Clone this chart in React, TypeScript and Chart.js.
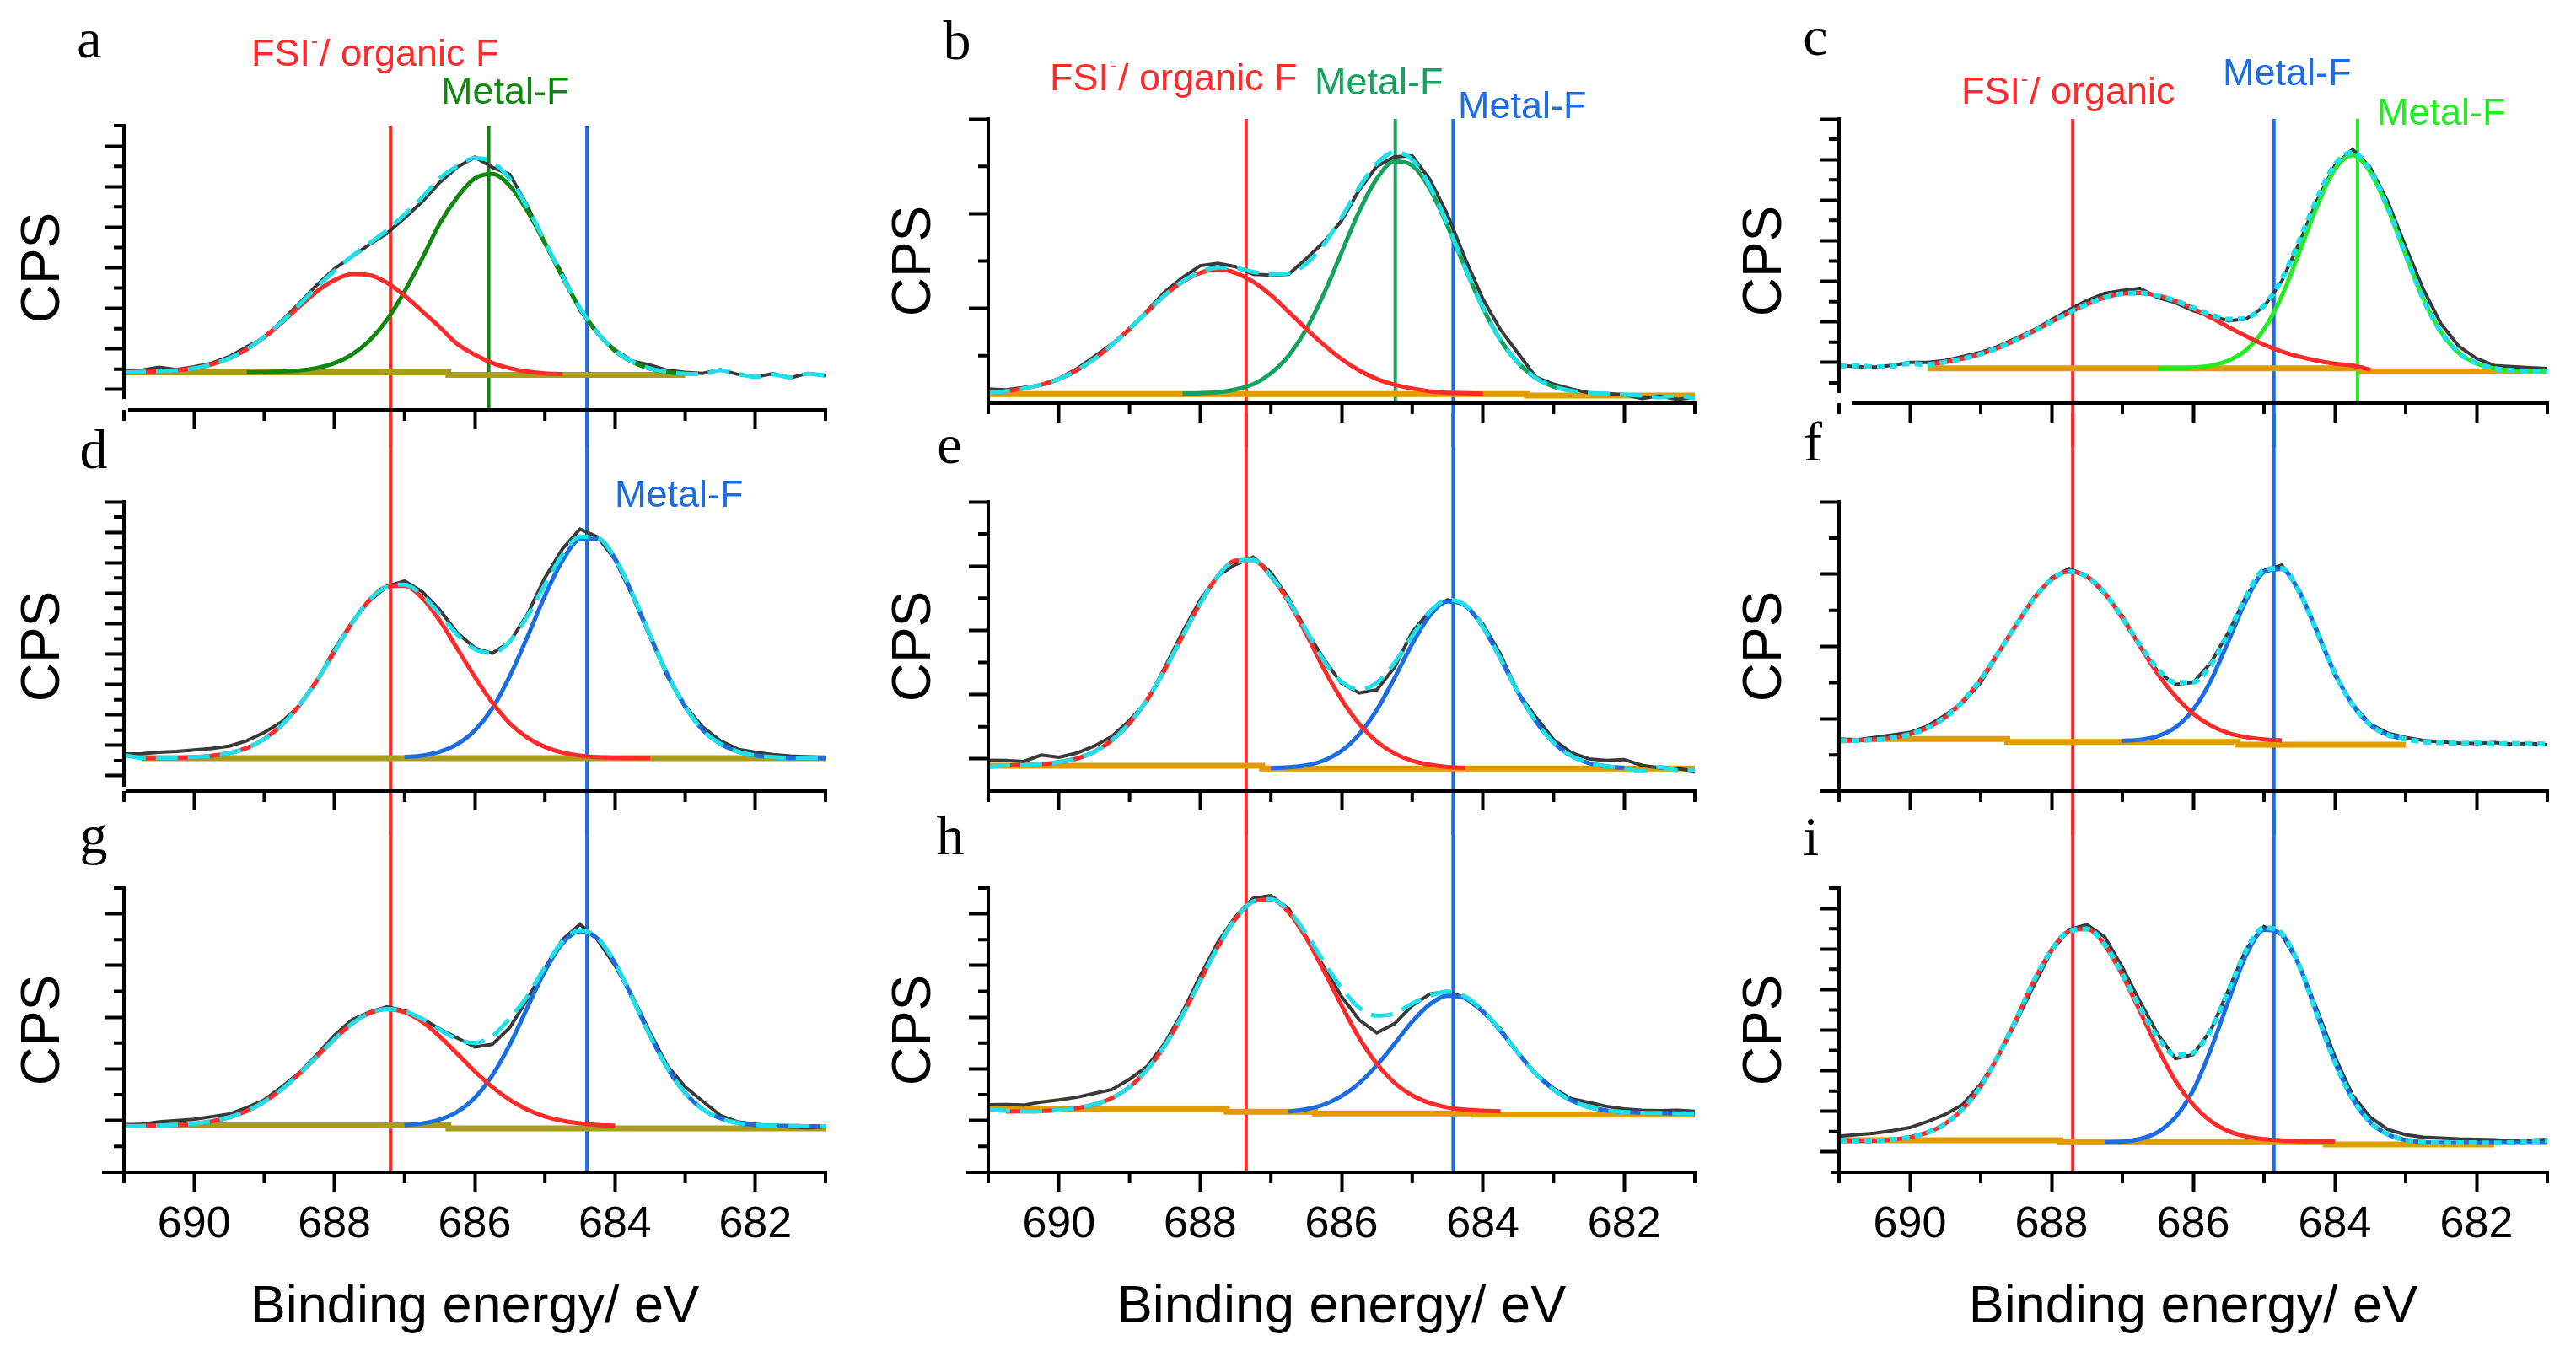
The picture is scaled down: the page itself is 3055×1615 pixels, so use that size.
import React, { useEffect, useRef } from 'react';
import { Chart, registerables } from 'chart.js';

Chart.register(...registerables);

const _ = null;

// ---------- shared axis data ----------
const ENERGY = [691, 690.75, 690.5, 690.25, 690, 689.75, 689.5, 689.25, 689, 688.75, 688.5, 688.25, 688, 687.75, 687.5, 687.25, 687, 686.75, 686.5, 686.25, 686, 685.75, 685.5, 685.25, 685, 684.75, 684.5, 684.25, 684, 683.75, 683.5, 683.25, 683, 682.75, 682.5, 682.25, 682, 681.75, 681.5, 681.25, 681];
const X_MAJOR = [690, 688, 686, 684, 682];
const X_LABELS = ['690', '688', '686', '684', '682'];
const X_MINOR = [691, 689, 687, 685, 683, 681];
const X_TITLE = 'Binding energy/ eV';
const Y_TITLE = 'CPS';
const PANEL_LETTERS = ['a', 'b', 'c', 'd', 'e', 'f', 'g', 'h', 'i'];
const Y_TOPS = [14, 6, 14, 19, 9, 8, 11, 11, 14];
// 1 = major ticks on odd values, 0 = major ticks on even values
const Y_MAJOR_ODD = [1, 0, 0, 1, 1, 0, 0, 0, 1];

// reference lines (eV) per column
const RED_LINE_E = [687.2, 687.35, 687.7];
const BLUE_LINE_E = [684.4, 684.42, 684.86];
const GREEN_LINE_E = [685.8, 685.24, 683.68];

// ---------- panel a ----------
const A_RAW = [1.90, 1.95, 2.10, 1.98, 2.12, 2.30, 2.62, 3.10, 3.55, 4.40, 5.25, 6.15, 6.95, 7.55, 8.15, 8.70, 9.45, 10.25, 11.20, 11.95, 12.45, 11.95, 11.60, 10.05, 8.20, 6.70, 4.90, 3.75, 2.95, 2.40, 2.20, 1.95, 1.85, 1.80, 1.98, 1.75, 1.62, 1.78, 1.58, 1.80, 1.68];
const A_FIT = [1.86, 1.87, 1.90, 1.95, 2.05, 2.24, 2.54, 2.98, 3.59, 4.34, 5.18, 6.05, 6.84, 7.57, 8.21, 8.85, 9.62, 10.46, 11.40, 12.00, 12.40, 12.21, 11.37, 9.97, 8.30, 6.59, 5.01, 3.80, 2.92, 2.37, 2.04, 1.87, 1.78, 1.76, 1.95, 1.78, 1.62, 1.75, 1.60, 1.78, 1.70];
const A_RED = [1.86, 1.87, 1.90, 1.95, 2.05, 2.24, 2.54, 2.98, 3.58, 4.30, 5.09, 5.84, 6.39, 6.69, 6.64, 6.26, 5.63, 4.86, 4.08, 3.25, 2.72, 2.31, 2.05, 1.89, 1.80, 1.76, _, _, _, _, _, _, _, _, _, _, _, _, _, _, _];
const A_GREEN = [_, _, _, _, _, _, _, 1.85, 1.86, 1.89, 1.94, 2.06, 2.30, 2.73, 3.42, 4.44, 5.84, 7.45, 9.17, 10.47, 11.40, 11.62, 11.04, 9.80, 8.22, 6.55, 4.99, 3.79, 2.91, 2.36, 2.03, 1.86, 1.78, _, _, _, _, _, _, _, _];
const A_BG = [1.85, 1.85, 1.85, 1.85, 1.85, 1.85, 1.85, 1.85, 1.85, 1.85, 1.85, 1.85, 1.85, 1.85, 1.85, 1.85, 1.85, 1.85, 1.85, 1.72, 1.72, 1.72, 1.72, 1.72, 1.72, 1.72, 1.72, 1.72, 1.72, 1.72, 1.72, 1.72, 1.72, _, _, _, _, _, _, _, _];

// ---------- panel b ----------
const B_RAW = [0.30, 0.28, 0.33, 0.38, 0.52, 0.72, 0.98, 1.25, 1.55, 1.95, 2.35, 2.65, 2.90, 2.95, 2.88, 2.72, 2.70, 2.72, 3.05, 3.40, 3.85, 4.50, 5.00, 5.20, 5.22, 4.72, 3.98, 3.05, 2.20, 1.55, 1.05, 0.55, 0.40, 0.30, 0.22, 0.20, 0.18, 0.10, 0.15, 0.08, 0.12];
const B_FIT = [0.22, 0.25, 0.31, 0.39, 0.51, 0.69, 0.93, 1.23, 1.57, 1.93, 2.28, 2.57, 2.77, 2.86, 2.85, 2.77, 2.72, 2.74, 2.94, 3.35, 3.92, 4.55, 5.06, 5.30, 5.14, 4.58, 3.77, 2.86, 2.02, 1.33, 0.85, 0.53, 0.35, 0.26, 0.22, 0.20, 0.18, 0.16, 0.12, 0.16, 0.10];
const B_RED = [0.22, 0.25, 0.31, 0.39, 0.51, 0.69, 0.93, 1.23, 1.57, 1.93, 2.28, 2.56, 2.75, 2.82, 2.75, 2.56, 2.28, 1.93, 1.57, 1.23, 0.93, 0.69, 0.51, 0.39, 0.31, 0.25, 0.22, 0.21, 0.20, _, _, _, _, _, _, _, _, _, _, _, _];
const B_GREEN = [_, _, _, _, _, _, _, _, _, _, _, 0.20, 0.21, 0.23, 0.29, 0.40, 0.63, 1.00, 1.56, 2.31, 3.18, 4.05, 4.74, 5.10, 5.02, 4.52, 3.74, 2.85, 2.01, 1.33, 0.85, 0.53, 0.35, 0.26, _, _, _, _, _, _, _];
const B_BG = [0.19, 0.19, 0.19, 0.19, 0.19, 0.19, 0.19, 0.19, 0.19, 0.19, 0.19, 0.19, 0.19, 0.19, 0.19, 0.19, 0.19, 0.19, 0.19, 0.19, 0.19, 0.19, 0.19, 0.19, 0.19, 0.19, 0.19, 0.19, 0.19, 0.19, 0.19, 0.16, 0.16, 0.16, 0.16, 0.16, 0.16, 0.16, 0.16, 0.16, 0.16];

// ---------- panel c ----------
const C_RAW = [1.86, 1.80, 1.78, 1.86, 2.00, 2.00, 2.10, 2.30, 2.50, 2.80, 3.20, 3.60, 4.10, 4.60, 5.05, 5.40, 5.55, 5.65, 5.20, 4.95, 4.55, 4.30, 4.05, 4.15, 4.75, 6.00, 7.90, 10.00, 11.70, 12.50, 11.60, 9.90, 7.70, 5.60, 3.90, 2.80, 2.20, 1.85, 1.80, 1.75, 1.70];
const C_FIT = [1.80, 1.85, 1.78, 1.82, 1.95, 1.90, 2.02, 2.19, 2.42, 2.73, 3.11, 3.54, 4.01, 4.46, 4.87, 5.20, 5.39, 5.42, 5.30, 5.04, 4.70, 4.35, 4.13, 4.20, 4.81, 6.10, 8.02, 10.08, 11.75, 12.35, 11.46, 9.60, 7.30, 5.13, 3.50, 2.48, 1.96, 1.71, 1.61, 1.58, 1.57];
const C_REDPEAK = [_, _, _, _, _, 1.90, 2.02, 2.19, 2.42, 2.73, 3.11, 3.54, 4.01, 4.46, 4.87, 5.20, 5.39, 5.42, 5.30, 5.03, 4.66, 4.21, 3.74, 3.29, 2.88, 2.54, 2.29, 2.09, 1.94, 1.85, 1.65, _, _, _, _, _, _, _, _, _, _];
const C_GREENPEAK = [_, _, _, _, _, _, _, _, _, _, _, _, _, _, _, _, _, _, 1.71, 1.72, 1.75, 1.85, 2.10, 2.62, 3.64, 5.27, 7.44, 9.70, 11.52, 12.21, 11.38, 9.56, 7.30, 5.13, 3.50, 2.48, 1.96, 1.71, 1.61, 1.58, 1.57];
const C_BG = [_, _, _, _, _, 1.71, 1.71, 1.71, 1.71, 1.71, 1.71, 1.71, 1.71, 1.71, 1.71, 1.71, 1.71, 1.71, 1.71, 1.71, 1.71, 1.71, 1.71, 1.71, 1.71, 1.71, 1.71, 1.71, 1.71, 1.71, 1.57, 1.57, 1.57, 1.57, 1.57, 1.57, 1.57, 1.57, 1.57, 1.57, 1.57];

// ---------- panel d ----------
const D_RAW = [2.44, 2.45, 2.55, 2.60, 2.70, 2.80, 2.95, 3.30, 3.85, 4.55, 5.60, 7.20, 9.30, 11.10, 12.50, 13.45, 13.80, 13.10, 11.90, 10.40, 9.40, 9.05, 9.80, 11.60, 14.00, 15.90, 17.20, 16.70, 15.20, 12.80, 10.10, 7.50, 5.60, 4.20, 3.30, 2.75, 2.55, 2.40, 2.30, 2.25, 2.20];
const D_FIT = [2.35, 2.18, 2.17, 2.19, 2.23, 2.32, 2.49, 2.83, 3.42, 4.34, 5.64, 7.26, 9.15, 11.03, 12.55, 13.42, 13.56, 12.86, 11.63, 10.28, 9.33, 9.07, 9.84, 11.47, 13.56, 15.51, 16.71, 16.64, 15.30, 12.92, 10.20, 7.62, 5.54, 4.01, 3.11, 2.60, 2.34, 2.23, 2.18, 2.17, 2.16];
const D_RED = [_, 2.16, 2.17, 2.19, 2.23, 2.32, 2.49, 2.83, 3.42, 4.34, 5.64, 7.26, 9.15, 11.03, 12.55, 13.42, 13.49, 12.69, 11.21, 9.36, 7.51, 5.81, 4.45, 3.51, 2.90, 2.53, 2.33, 2.23, 2.19, 2.17, 2.16, _, _, _, _, _, _, _, _, _, _];
const D_BLUE = [_, _, _, _, _, _, _, _, _, _, _, _, _, _, _, _, 2.23, 2.33, 2.58, 3.08, 3.98, 5.42, 7.55, 10.12, 12.82, 15.14, 16.54, 16.57, 15.27, 12.91, 10.20, 7.62, 5.54, 4.01, 3.11, 2.60, 2.34, 2.23, 2.18, 2.17, 2.16];
const D_BG = [_, 2.16, 2.16, 2.16, 2.16, 2.16, 2.16, 2.16, 2.16, 2.16, 2.16, 2.16, 2.16, 2.16, 2.16, 2.16, 2.16, 2.16, 2.16, 2.16, 2.16, 2.16, 2.16, 2.16, 2.16, 2.16, 2.16, 2.16, 2.16, 2.16, 2.16, 2.16, 2.16, 2.16, 2.16, 2.16, 2.16, 2.16, 2.16, 2.16, 2.16];

// ---------- panel e ----------
const E_RAW = [0.96, 0.95, 0.92, 1.12, 1.05, 1.18, 1.40, 1.70, 2.20, 2.80, 3.85, 4.95, 5.95, 6.70, 7.05, 7.28, 6.80, 6.00, 5.00, 4.10, 3.35, 3.05, 3.15, 3.85, 4.95, 5.60, 5.95, 5.80, 5.20, 4.25, 3.05, 2.30, 1.60, 1.20, 1.00, 0.95, 0.98, 0.80, 0.72, 0.70, 0.62];
const E_FIT = [0.75, 0.80, 0.81, 0.84, 0.90, 1.01, 1.22, 1.58, 2.11, 2.85, 3.78, 4.82, 5.84, 6.69, 7.17, 7.19, 6.69, 5.93, 4.99, 4.05, 3.40, 3.16, 3.37, 3.99, 4.82, 5.58, 5.95, 5.79, 5.11, 4.12, 3.06, 2.17, 1.51, 1.10, 0.87, 0.77, 0.72, 0.62, 0.75, 0.65, 0.66];
const E_RED = [_, 0.80, 0.81, 0.84, 0.90, 1.01, 1.22, 1.58, 2.11, 2.85, 3.78, 4.82, 5.84, 6.69, 7.17, 7.19, 6.68, 5.89, 4.89, 3.80, 2.85, 2.09, 1.54, 1.17, 0.94, 0.82, 0.75, 0.72, _, _, _, _, _, _, _, _, _, _, _, _, _];
const E_BLUE = [_, _, _, _, _, _, _, _, _, _, _, _, _, _, _, _, 0.71, 0.74, 0.80, 0.95, 1.25, 1.77, 2.53, 3.52, 4.58, 5.46, 5.90, 5.77, 5.11, 4.12, 3.06, 2.17, 1.51, 1.10, 0.87, 0.77, 0.72, _, _, _, _];
const E_BG = [0.79, 0.79, 0.79, 0.79, 0.79, 0.79, 0.79, 0.79, 0.79, 0.79, 0.79, 0.79, 0.79, 0.79, 0.79, 0.79, 0.70, 0.70, 0.70, 0.70, 0.70, 0.70, 0.70, 0.70, 0.70, 0.70, 0.70, 0.70, 0.70, 0.70, 0.70, 0.70, 0.70, 0.70, 0.70, 0.70, 0.70, 0.70, 0.70, 0.70, 0.70];

// ---------- panel f ----------
const F_RAW = [1.44, 1.42, 1.48, 1.55, 1.62, 1.80, 2.10, 2.45, 3.00, 3.80, 4.60, 5.35, 5.90, 6.15, 5.95, 5.45, 4.85, 4.00, 3.30, 2.95, 3.00, 3.55, 4.40, 5.40, 6.10, 6.25, 5.55, 4.45, 3.20, 2.40, 1.85, 1.60, 1.48, 1.40, 1.36, 1.33, 1.32, 1.34, 1.30, 1.32, 1.28];
const F_FIT = [1.39, 1.40, 1.42, 1.47, 1.57, 1.75, 2.04, 2.49, 3.09, 3.83, 4.59, 5.32, 5.85, 6.07, 5.93, 5.48, 4.79, 4.04, 3.38, 3.00, 3.01, 3.49, 4.38, 5.39, 6.11, 6.16, 5.50, 4.39, 3.26, 2.39, 1.83, 1.55, 1.44, 1.36, 1.34, 1.32, 1.33, 1.30, 1.32, 1.31, 1.30];
const F_RED = [1.39, 1.40, 1.42, 1.47, 1.57, 1.75, 2.04, 2.49, 3.09, 3.83, 4.59, 5.32, 5.85, 6.07, 5.93, 5.48, 4.78, 4.00, 3.24, 2.62, 2.14, 1.81, 1.60, 1.49, 1.43, 1.40, _, _, _, _, _, _, _, _, _, _, _, _, _, _, _];
const F_BLUE = [_, _, _, _, _, _, _, _, _, _, _, _, _, _, _, _, 1.39, 1.42, 1.52, 1.76, 2.25, 3.06, 4.16, 5.28, 6.06, 6.14, 5.50, 4.39, 3.26, 2.39, 1.83, 1.55, 1.44, _, _, _, _, _, _, _, _];
const F_BG = [_, _, 1.44, 1.44, 1.44, 1.44, 1.44, 1.44, 1.44, 1.44, 1.36, 1.36, 1.36, 1.36, 1.36, 1.36, 1.36, 1.36, 1.36, 1.36, 1.36, 1.36, 1.36, 1.28, 1.28, 1.28, 1.28, 1.28, 1.28, 1.28, 1.28, 1.28, 1.28, _, _, _, _, _, _, _, _];

// ---------- panel g ----------
const G_RAW = [1.80, 1.85, 1.95, 2.00, 2.05, 2.15, 2.25, 2.50, 2.80, 3.30, 3.85, 4.55, 5.30, 5.90, 6.20, 6.40, 6.25, 5.95, 5.55, 5.20, 4.85, 4.95, 5.60, 6.70, 7.90, 9.00, 9.60, 9.00, 8.00, 6.80, 5.40, 4.10, 3.30, 2.75, 2.20, 1.95, 1.85, 1.80, 1.75, 1.72, 1.76];
const G_FIT = [1.78, 1.79, 1.80, 1.83, 1.88, 1.97, 2.13, 2.37, 2.73, 3.21, 3.81, 4.48, 5.15, 5.75, 6.16, 6.32, 6.24, 5.94, 5.52, 5.15, 5.01, 5.27, 5.96, 6.81, 7.94, 8.93, 9.37, 9.07, 8.11, 6.73, 5.28, 4.02, 3.07, 2.44, 2.09, 1.91, 1.83, 1.80, 1.79, 1.78, 1.78];
const G_RED = [1.78, 1.79, 1.80, 1.83, 1.88, 1.97, 2.13, 2.37, 2.73, 3.21, 3.81, 4.48, 5.15, 5.75, 6.16, 6.32, 6.20, 5.83, 5.26, 4.59, 3.91, 3.30, 2.80, 2.42, 2.16, 1.99, 1.89, 1.83, 1.80, _, _, _, _, _, _, _, _, _, _, _, _];
const G_BLUE = [_, _, _, _, _, _, _, _, _, _, _, _, _, _, _, _, 1.82, 1.89, 2.04, 2.34, 2.88, 3.75, 4.94, 6.37, 7.78, 8.86, 9.33, 9.05, 8.09, 6.73, 5.28, 4.02, 3.07, 2.44, 2.09, 1.91, 1.83, 1.80, 1.79, 1.78, 1.78];
const G_BG = [1.81, 1.81, 1.81, 1.81, 1.81, 1.81, 1.81, 1.81, 1.81, 1.81, 1.81, 1.81, 1.81, 1.81, 1.81, 1.81, 1.81, 1.81, 1.81, 1.70, 1.70, 1.70, 1.70, 1.70, 1.70, 1.70, 1.70, 1.70, 1.70, 1.70, 1.70, 1.70, 1.70, 1.70, 1.70, 1.70, 1.70, 1.70, 1.70, 1.70, 1.70];

// ---------- panel h ----------
const H_RAW = [2.61, 2.62, 2.60, 2.72, 2.80, 2.90, 3.05, 3.20, 3.60, 4.10, 5.00, 6.20, 7.60, 8.90, 9.90, 10.60, 10.70, 10.20, 9.10, 7.95, 6.80, 5.90, 5.40, 5.75, 6.45, 6.90, 7.00, 6.75, 6.20, 5.55, 4.60, 3.80, 3.25, 2.85, 2.70, 2.55, 2.45, 2.40, 2.38, 2.40, 2.36];
const H_FIT = [2.45, 2.38, 2.36, 2.37, 2.41, 2.48, 2.62, 2.87, 3.30, 3.98, 4.91, 6.08, 7.41, 8.72, 9.81, 10.48, 10.57, 10.13, 9.23, 8.14, 7.13, 6.37, 6.06, 6.15, 6.53, 6.83, 6.99, 6.80, 6.26, 5.49, 4.61, 3.81, 3.20, 2.78, 2.53, 2.39, 2.33, 2.30, 2.29, 2.28, 2.28];
const H_RED = [_, 2.35, 2.36, 2.37, 2.41, 2.48, 2.62, 2.87, 3.30, 3.98, 4.91, 6.08, 7.41, 8.72, 9.81, 10.48, 10.56, 10.06, 9.07, 7.80, 6.46, 5.20, 4.20, 3.46, 2.98, 2.68, 2.51, 2.42, 2.38, 2.36, _, _, _, _, _, _, _, _, _, _, _];
const H_BLUE = [_, _, _, _, _, _, _, _, _, _, _, _, _, _, _, _, _, 2.35, 2.44, 2.62, 2.95, 3.45, 4.14, 4.97, 5.83, 6.50, 6.83, 6.73, 6.23, 5.47, 4.61, 3.81, 3.20, 2.78, 2.53, 2.39, 2.33, 2.30, 2.29, 2.28, 2.28];
const H_BG = [2.45, 2.45, 2.45, 2.45, 2.45, 2.45, 2.45, 2.45, 2.45, 2.45, 2.45, 2.45, 2.45, 2.45, 2.34, 2.34, 2.34, 2.34, 2.34, 2.28, 2.28, 2.28, 2.28, 2.28, 2.28, 2.28, 2.28, 2.28, 2.23, 2.23, 2.23, 2.23, 2.23, 2.23, 2.23, 2.23, 2.23, 2.23, 2.23, 2.23, 2.23];

// ---------- panel i ----------
const I_RAW = [1.78, 1.85, 1.92, 2.05, 2.20, 2.50, 2.85, 3.35, 4.35, 5.70, 7.40, 9.20, 10.90, 11.95, 12.20, 11.60, 10.10, 8.40, 6.80, 5.60, 5.80, 7.00, 9.00, 11.00, 12.10, 11.70, 10.20, 8.00, 5.70, 3.80, 2.70, 2.10, 1.85, 1.72, 1.68, 1.64, 1.62, 1.60, 1.55, 1.58, 1.62];
const I_FIT = [1.53, 1.54, 1.56, 1.61, 1.73, 1.96, 2.39, 3.13, 4.22, 5.76, 7.53, 9.41, 10.95, 11.88, 11.98, 11.22, 9.76, 8.11, 6.64, 5.77, 5.89, 7.04, 8.95, 10.94, 12.04, 11.76, 10.16, 7.76, 5.43, 3.62, 2.46, 1.86, 1.59, 1.49, 1.46, 1.45, 1.45, 1.44, 1.46, 1.50, 1.58];
const I_RED = [1.53, 1.54, 1.56, 1.61, 1.73, 1.96, 2.39, 3.13, 4.22, 5.76, 7.53, 9.41, 10.95, 11.88, 11.98, 11.20, 9.70, 7.92, 6.11, 4.50, 3.33, 2.51, 2.02, 1.76, 1.63, 1.57, 1.54, 1.53, 1.53, _, _, _, _, _, _, _, _, _, _, _, _];
const I_BLUE = [_, _, _, _, _, _, _, _, _, _, _, _, _, _, _, 1.47, 1.51, 1.64, 1.98, 2.72, 4.04, 6.06, 8.46, 10.71, 11.94, 11.72, 10.14, 7.76, 5.43, 3.62, 2.46, 1.86, 1.59, 1.49, 1.46, 1.45, 1.45, 1.45, 1.45, 1.45, 1.45];
const I_BG = [1.58, 1.58, 1.58, 1.58, 1.58, 1.58, 1.58, 1.58, 1.58, 1.58, 1.58, 1.58, 1.58, 1.48, 1.48, 1.48, 1.48, 1.48, 1.48, 1.48, 1.48, 1.48, 1.48, 1.48, 1.48, 1.48, 1.48, 1.48, 1.37, 1.37, 1.37, 1.37, 1.37, 1.37, 1.37, 1.37, 1.37, 1.37, _, _, _];

// ---------- styles & layout ----------
const SANS = '"Liberation Sans", Arial, Helvetica, sans-serif';
const SERIF = '"Liberation Serif", "Times New Roman", serif';
const COLOR_RAW = '#3a3a3a';
const COLOR_CYAN = '#1fdfe8';
const COLOR_RED = '#ff2b2b';
const COLOR_BLUE = '#1c6ce2';
const COLOR_GREENS = ['#10870f', '#14a35e', '#22ec22'];
const COLOR_OLIVE = '#aa9c1c';
const COLOR_ORANGE = '#e19c00';

const COL_X = [0, 1015, 2030];
const COL_W = [1015, 1015, 1025];
const ROW_Y = [0, 490, 960];
const ROW_H = [530, 500, 655];
const CHART_L = [147, 1172, 2181];
const CHART_R = [979, 2010, 3021];
const CPS_X = [52, 1085, 2094];
const PLOT_TOP = [149, 141, 141, 595, 595, 595, 1053, 1053, 1053];
const PLOT_BOTTOM = [486, 478, 478, 938, 938, 938, 1390, 1390, 1390];
// y-axis line stops this many px above the x axis; x-axis line starts this many px left of the y axis
const Y_AXIS_GAP = [13, 0, 12, 5, 0, 3, 0, 0, 0];
const X_AXIS_EXT = [-7, 0, -17, -5, 0, 21, 24, 24, 8];
const LETTER_POS = [[106, 68], [1135, 70], [2153, 65], [111, 555], [1126, 549], [2150, 546], [111, 1012], [1127, 1013], [2148, 1014]];

type Ann = { panel: number; text: string; sup?: string; rest?: string; x: number; y: number; color: string };
const ANNOTATIONS: Ann[] = [
  { panel: 0, text: 'FSI', sup: '-', rest: '/ organic F', x: 298, y: 78, color: COLOR_RED },
  { panel: 0, text: 'Metal-F', x: 523, y: 123, color: COLOR_GREENS[0] },
  { panel: 3, text: 'Metal-F', x: 729, y: 601, color: COLOR_BLUE },
  { panel: 1, text: 'FSI', sup: '-', rest: '/ organic F', x: 1245, y: 107, color: COLOR_RED },
  { panel: 1, text: 'Metal-F', x: 1559, y: 112, color: COLOR_GREENS[1] },
  { panel: 1, text: 'Metal-F', x: 1729, y: 140, color: COLOR_BLUE },
  { panel: 2, text: 'FSI', sup: '-', rest: '/ organic', x: 2326, y: 123, color: COLOR_RED },
  { panel: 2, text: 'Metal-F', x: 2636, y: 101, color: COLOR_BLUE },
  { panel: 2, text: 'Metal-F', x: 2819, y: 148, color: COLOR_GREENS[2] },
];

type Comp = { data: (number | null)[]; color: string };
type PanelSpec = { raw: (number | null)[]; fit: (number | null)[]; comps: Comp[]; bg: (number | null)[]; bgColor: string };

const PANELS: PanelSpec[] = [
  { raw: A_RAW, fit: A_FIT, comps: [{ data: A_RED, color: COLOR_RED }, { data: A_GREEN, color: COLOR_GREENS[0] }], bg: A_BG, bgColor: COLOR_OLIVE },
  { raw: B_RAW, fit: B_FIT, comps: [{ data: B_RED, color: COLOR_RED }, { data: B_GREEN, color: COLOR_GREENS[1] }], bg: B_BG, bgColor: COLOR_ORANGE },
  { raw: C_RAW, fit: C_FIT, comps: [{ data: C_REDPEAK, color: COLOR_RED }, { data: C_GREENPEAK, color: COLOR_GREENS[2] }], bg: C_BG, bgColor: COLOR_ORANGE },
  { raw: D_RAW, fit: D_FIT, comps: [{ data: D_RED, color: COLOR_RED }, { data: D_BLUE, color: COLOR_BLUE }], bg: D_BG, bgColor: COLOR_OLIVE },
  { raw: E_RAW, fit: E_FIT, comps: [{ data: E_RED, color: COLOR_RED }, { data: E_BLUE, color: COLOR_BLUE }], bg: E_BG, bgColor: COLOR_ORANGE },
  { raw: F_RAW, fit: F_FIT, comps: [{ data: F_RED, color: COLOR_RED }, { data: F_BLUE, color: COLOR_BLUE }], bg: F_BG, bgColor: COLOR_ORANGE },
  { raw: G_RAW, fit: G_FIT, comps: [{ data: G_RED, color: COLOR_RED }, { data: G_BLUE, color: COLOR_BLUE }], bg: G_BG, bgColor: COLOR_OLIVE },
  { raw: H_RAW, fit: H_FIT, comps: [{ data: H_RED, color: COLOR_RED }, { data: H_BLUE, color: COLOR_BLUE }], bg: H_BG, bgColor: COLOR_ORANGE },
  { raw: I_RAW, fit: I_FIT, comps: [{ data: I_RED, color: COLOR_RED }, { data: I_BLUE, color: COLOR_BLUE }], bg: I_BG, bgColor: COLOR_ORANGE },
];

function pts(arr: (number | null)[]) {
  const out: { x: number; y: number }[] = [];
  ENERGY.forEach((x, i) => {
    const y = arr[i];
    if (y !== null && y !== undefined) out.push({ x, y });
  });
  return out;
}

function buildChart(canvas: HTMLCanvasElement, idx: number) {
  const spec = PANELS[idx];
  const col = idx % 3;
  const row = Math.floor(idx / 3);
  const cx0 = COL_X[col];
  const cy0 = ROW_Y[row];
  const W = COL_W[col];
  const H = ROW_H[row];
  const left = CHART_L[col] - cx0;
  const right = CHART_R[col] - cx0;
  const top = PLOT_TOP[idx] - cy0;
  const bottom = PLOT_BOTTOM[idx] - cy0;
  const cpsSize = 64;
  const cpsHalf = (cpsSize * 1.2) / 2;
  const yScaleLeft = CPS_X[col] - cx0 - cpsHalf;
  const yWidth = left - yScaleLeft;
  const isBottomRow = row === 2;
  const xH = isBottomRow ? 202 : 30;
  const yMax = Y_TOPS[idx];
  const dash = col === 2 ? [9, 6] : [26, 12];
  const fitWidth = col === 2 ? 6 : 5;
  const yGap = Y_AXIS_GAP[idx];
  const xExt = X_AXIS_EXT[idx];

  const vlines: { e: number; color: string; up: boolean; down: boolean }[] = [
    { e: RED_LINE_E[col], color: COLOR_RED, up: row > 0, down: row < 2 },
    { e: BLUE_LINE_E[col], color: COLOR_BLUE, up: row > 0, down: row < 2 },
  ];
  if (row === 0) vlines.push({ e: GREEN_LINE_E[col], color: COLOR_GREENS[col], up: false, down: false });

  const yMajor: number[] = [];
  const yMinor: number[] = [];
  const oddMajor = Y_MAJOR_ODD[idx] === 1;
  for (let v = 1; v <= yMax; v++) ((v % 2 === 1) === oddMajor ? yMajor : yMinor).push(v);

  const decor = {
    id: 'decor' + idx,
    beforeDatasetsDraw(chart: any) {
      const { ctx, chartArea, scales } = chart;
      ctx.save();
      ctx.lineWidth = 4;
      for (const l of vlines) {
        const x = scales.x.getPixelForValue(l.e);
        ctx.strokeStyle = l.color;
        ctx.beginPath();
        ctx.moveTo(x, l.up ? 0 : chartArea.top);
        ctx.lineTo(x, l.down ? chart.height : chartArea.bottom);
        ctx.stroke();
      }
      ctx.restore();
    },
    afterDraw(chart: any) {
      const { ctx, chartArea, scales } = chart;
      ctx.save();
      ctx.strokeStyle = '#000';
      ctx.lineWidth = 4;
      ctx.lineCap = 'butt';
      ctx.beginPath();
      ctx.moveTo(chartArea.left, chartArea.top - 2);
      ctx.lineTo(chartArea.left, chartArea.bottom - yGap);
      ctx.moveTo(chartArea.left - xExt - 2, chartArea.bottom);
      ctx.lineTo(chartArea.right + 2, chartArea.bottom);
      for (const v of yMinor) {
        const y = scales.y.getPixelForValue(v);
        ctx.moveTo(chartArea.left - 12, y);
        ctx.lineTo(chartArea.left, y);
      }
      for (const v of X_MINOR) {
        const x = scales.x.getPixelForValue(v);
        ctx.moveTo(x, chartArea.bottom);
        ctx.lineTo(x, chartArea.bottom + 13);
      }
      ctx.stroke();

      const lp = LETTER_POS[idx];
      ctx.fillStyle = '#000';
      ctx.font = `66px ${SERIF}`;
      ctx.textAlign = 'center';
      ctx.textBaseline = 'alphabetic';
      ctx.fillText(PANEL_LETTERS[idx], lp[0] - cx0, lp[1] - cy0);

      ctx.textAlign = 'left';
      for (const a of ANNOTATIONS) {
        if (a.panel !== idx) continue;
        const x = a.x - cx0;
        const y = a.y - cy0;
        ctx.fillStyle = a.color;
        ctx.font = `45px ${SANS}`;
        ctx.fillText(a.text, x, y);
        if (a.sup !== undefined) {
          const w1 = ctx.measureText(a.text).width;
          ctx.font = `24px ${SANS}`;
          ctx.fillText(a.sup, x + w1 + 1, y - 22);
          const w2 = ctx.measureText(a.sup).width;
          ctx.font = `45px ${SANS}`;
          ctx.fillText(a.rest || '', x + w1 + w2 + 3, y);
        }
      }
      ctx.restore();
    },
  };

  const datasets: any[] = [];
  datasets.push({
    data: pts(spec.fit), borderColor: COLOR_CYAN, borderWidth: fitWidth, borderDash: dash,
    cubicInterpolationMode: 'monotone', pointRadius: 0,
  });
  spec.comps.forEach((c) => {
    datasets.push({ data: pts(c.data), borderColor: c.color, borderWidth: 5, cubicInterpolationMode: 'monotone', pointRadius: 0 });
  });
  datasets.push({ data: pts(spec.raw), borderColor: COLOR_RAW, borderWidth: 4, tension: 0, pointRadius: 0 });
  datasets.push({ data: pts(spec.bg), borderColor: spec.bgColor, borderWidth: 7, stepped: 'middle', pointRadius: 0 });

  return new Chart(canvas, {
    type: 'line',
    data: { datasets },
    plugins: [decor],
    options: {
      animation: false,
      responsive: false,
      events: [],
      layout: { padding: { left: yScaleLeft, right: W - right, top, bottom: H - bottom - xH } },
      plugins: { legend: { display: false }, tooltip: { enabled: false }, title: { display: false } },
      scales: {
        x: {
          type: 'linear', reverse: true, min: 681, max: 691,
          afterBuildTicks: (s: any) => { s.ticks = X_MAJOR.map((v) => ({ value: v })); },
          afterFit: (s: any) => { s.height = xH; },
          grid: { display: true, drawOnChartArea: false, drawTicks: true, tickLength: 23, tickWidth: 4, tickColor: '#000' },
          border: { display: false },
          ticks: {
            display: isBottomRow, autoSkip: false, maxRotation: 0, padding: 8, color: '#000',
            font: { size: 52, family: SANS },
            callback: (v: any) => { const k = X_MAJOR.indexOf(Number(v)); return k >= 0 ? X_LABELS[k] : ''; },
          },
          title: { display: isBottomRow, text: X_TITLE, color: '#000', font: { size: 63, family: SANS }, padding: { top: 0, bottom: 4 } },
        },
        y: {
          type: 'linear', min: 0, max: yMax,
          afterBuildTicks: (s: any) => { s.ticks = yMajor.map((v) => ({ value: v })); },
          afterFit: (s: any) => { s.width = yWidth; },
          grid: { display: true, drawOnChartArea: false, drawTicks: true, tickLength: 23, tickWidth: 4, tickColor: '#000' },
          border: { display: false },
          ticks: { display: false },
          title: { display: true, text: Y_TITLE, color: '#000', font: { size: cpsSize, family: SANS }, padding: { top: 0, bottom: 0 } },
        },
      },
    } as any,
  });
}

export default function App() {
  const refs = useRef<(HTMLCanvasElement | null)[]>([]);
  useEffect(() => {
    const charts = PANELS.map((_p, i) => buildChart(refs.current[i] as HTMLCanvasElement, i));
    return () => { charts.forEach((c) => c.destroy()); };
  }, []);
  return (
    <div style={{ position: 'absolute', left: 0, top: 0, width: 3055, height: 1615, background: '#fff', overflow: 'hidden' }}>
      {PANELS.map((_p, i) => {
        const col = i % 3;
        const row = Math.floor(i / 3);
        return (
          <canvas
            key={PANEL_LETTERS[i]}
            ref={(el) => { refs.current[i] = el; }}
            width={COL_W[col]}
            height={ROW_H[row]}
            style={{ position: 'absolute', left: COL_X[col], top: ROW_Y[row], width: COL_W[col], height: ROW_H[row] }}
          />
        );
      })}
    </div>
  );
}
